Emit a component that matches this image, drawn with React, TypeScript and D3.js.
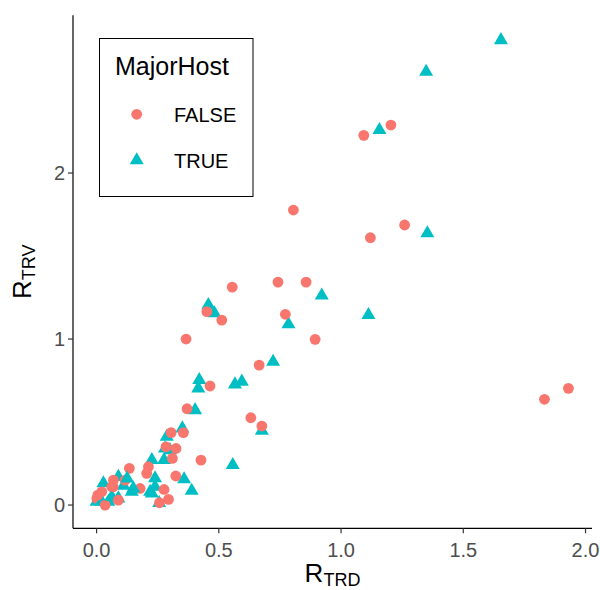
import React from "react";
import * as d3 from "d3";

const falseX = [1.204, 1.093, 0.805, 1.26, 1.12, 1.93, 1.832, 0.555, 0.451, 0.512, 0.742, 0.857, 0.772, 0.894, 0.366, 0.665, 0.464, 0.37, 0.631, 0.676, 0.305, 0.355, 0.284, 0.325, 0.31, 0.427, 0.212, 0.205, 0.324, 0.178, 0.276, 0.294, 0.257, 0.134, 0.069, 0.117, 0.062, 0.021, 0.001, 0.035, 0.089, 0.005, 0.068];
const falseY = [2.289, 2.227, 1.777, 1.687, 1.61, 0.703, 0.637, 1.313, 1.165, 1.114, 1.343, 1.343, 1.149, 0.998, 1.0, 0.843, 0.717, 0.58, 0.526, 0.476, 0.436, 0.436, 0.351, 0.341, 0.281, 0.271, 0.231, 0.191, 0.175, 0.1, 0.094, 0.034, 0.014, 0.221, 0.15, 0.15, 0.11, 0.08, 0.04, 0.0, 0.03, 0.06, 0.11];

const trueX = [1.654, 1.348, 1.157, 1.353, 0.921, 1.112, 0.457, 0.482, 0.785, 0.722, 0.42, 0.416, 0.566, 0.594, 0.403, 0.676, 0.351, 0.287, 0.28, 0.3, 0.276, 0.226, 0.239, 0.358, 0.389, 0.239, 0.226, 0.256, 0.557, 0.089, 0.028, 0.11, 0.15, 0.144, 0.219, 0.0, 0.048, 0.089, 0.021, 0.062, 0.125];
const trueY = [2.8, 2.61, 2.259, 1.637, 1.262, 1.145, 1.205, 1.155, 1.089, 0.863, 0.753, 0.703, 0.727, 0.743, 0.572, 0.448, 0.462, 0.411, 0.341, 0.331, 0.271, 0.271, 0.161, 0.155, 0.086, 0.11, 0.07, 0.012, 0.241, 0.17, 0.131, 0.116, 0.1, 0.08, 0.08, 0.02, 0.02, 0.04, 0.02, 0.05, 0.16];

const xTicks = [0, 0.5, 1, 1.5, 2];
const xTickLabels = ["0.0", "0.5", "1.0", "1.5", "2.0"];
const yTicks = [0, 1, 2];
const yTickLabels = ["0", "1", "2"];
const groups = ["FALSE", "TRUE"];
const legendTitle = "MajorHost";

const COL_FALSE = "#F8766D";
const COL_TRUE = "#00BFC4";
const FONT = "'Liberation Sans', Arial, Helvetica, sans-serif";

function triPath(cx: number, cy: number, hw: number) {
  const r = (hw / 1.3468) * 1.5551;
  const h = r / 2;
  return `M${cx},${cy - r}L${cx + hw},${cy + h}L${cx - hw},${cy + h}Z`;
}

export default function App() {
  const W = 600, H = 590;
  const left = 73, right = 592, top = 15.3, bottom = 528.3;
  const x = d3.scaleLinear().domain([-0.0965, 2.0265]).range([left, right]);
  const y = d3.scaleLinear().domain([-0.14, 2.95]).range([bottom, top]);

  const pts: { x: number; y: number; g: number }[] = [];
  const n = Math.max(falseX.length, trueX.length);
  for (let i = 0; i < n; i++) {
    if (i < falseX.length) pts.push({ x: falseX[i], y: falseY[i], g: 0 });
    if (i < trueX.length) pts.push({ x: trueX[i], y: trueY[i], g: 1 });
  }

  const r = 5.4;
  const hw = 7;

  return (
    <svg width={W} height={H} style={{ position: "absolute", left: 0, top: 0, background: "#fff" }} fontFamily={FONT}>
      <rect x={0} y={0} width={W} height={H} fill="#fff" />
      {pts.map((p, i) =>
        p.g === 0 ? (
          <circle key={i} cx={x(p.x)} cy={y(p.y)} r={r} fill={COL_FALSE} />
        ) : (
          <path key={i} d={triPath(x(p.x), y(p.y), hw)} fill={COL_TRUE} />
        )
      )}
      <line x1={left} x2={left} y1={top} y2={bottom} stroke="#000" strokeWidth={1.2} />
      <line x1={left} x2={right} y1={bottom} y2={bottom} stroke="#000" strokeWidth={1.2} />
      {xTicks.map((t, i) => (
        <g key={"xt" + i}>
          <line x1={x(t)} x2={x(t)} y1={bottom} y2={bottom + 5} stroke="#333" strokeWidth={1.2} />
          <text x={x(t)} y={bottom + 29} textAnchor="middle" fontSize={20} fill="#4D4D4D">
            {xTickLabels[i]}
          </text>
        </g>
      ))}
      {yTicks.map((t, i) => (
        <g key={"yt" + i}>
          <line x1={left - 5} x2={left} y1={y(t)} y2={y(t)} stroke="#333" strokeWidth={1.2} />
          <text x={left - 8} y={y(t) + 7} textAnchor="end" fontSize={20} fill="#4D4D4D">
            {yTickLabels[i]}
          </text>
        </g>
      ))}
      <text x={(left + right) / 2} y={582} textAnchor="middle" fontSize={26} fill="#000">
        R<tspan fontSize={18} dy={4}>TRD</tspan>
      </text>
      <text transform={`translate(31,${(top + bottom) / 2}) rotate(-90)`} textAnchor="middle" fontSize={26} fill="#000">
        R<tspan fontSize={18} dy={4}>TRV</tspan>
      </text>
      <rect x={99.5} y={38.5} width={153.5} height={158} fill="#fff" stroke="#000" strokeWidth={1} />
      <text x={115} y={74.5} fontSize={25} fill="#000">{legendTitle}</text>
      <circle cx={136.7} cy={114.3} r={r} fill={COL_FALSE} />
      <text x={174} y={121.7} fontSize={20} fill="#000">{groups[0]}</text>
      <path d={triPath(136.7, 160.3, hw)} fill={COL_TRUE} />
      <text x={174} y={167.7} fontSize={20} fill="#000">{groups[1]}</text>
    </svg>
  );
}
